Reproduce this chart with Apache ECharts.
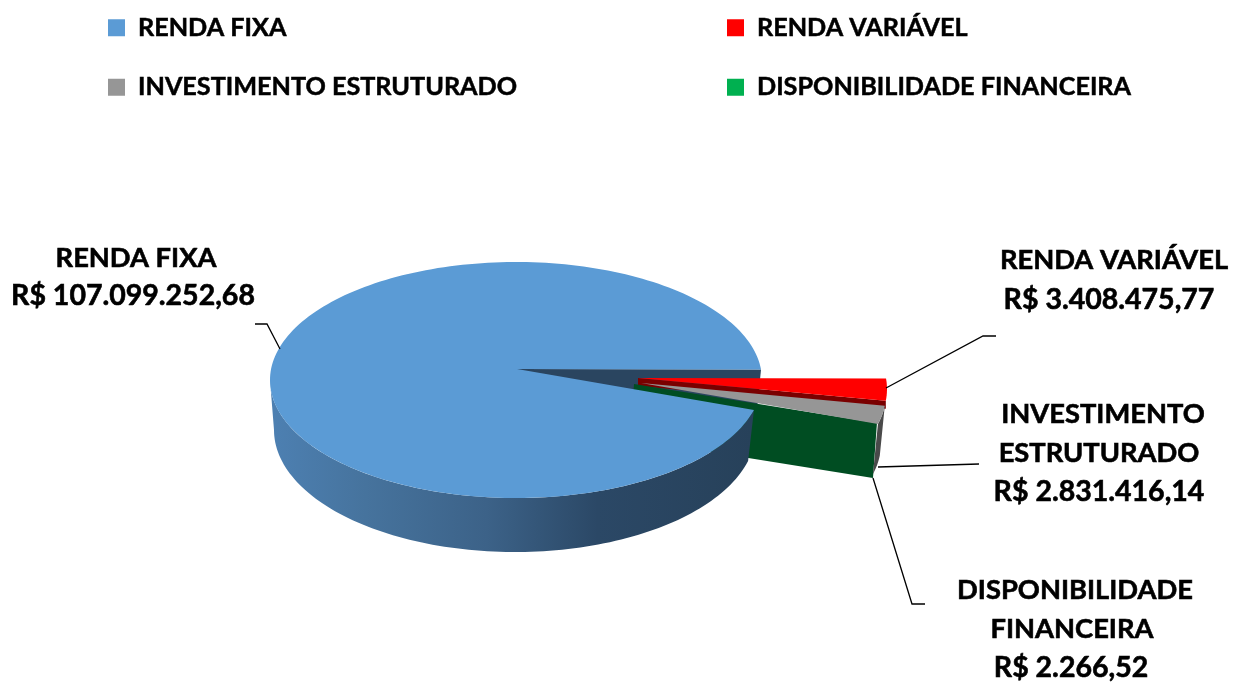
<!DOCTYPE html>
<html><head><meta charset="utf-8">
<style>html,body{margin:0;padding:0;background:#fff}#c{width:1241px;height:682px}</style>
<script src="https://cdn.jsdelivr.net/npm/echarts@6/dist/echarts.min.js"></script>
</head><body><div id="c"></div>
<script>
// ---- data ----
const categories = ['RENDA FIXA', 'RENDA VARIÁVEL', 'INVESTIMENTO ESTRUTURADO', 'DISPONIBILIDADE FINANCEIRA'];
const values = [107099252.68, 3408475.77, 2831416.14, 2266.52];
const colors = ['#5b9bd5', '#ff0000', '#969696', '#00b050'];

// ---- layout of the tilted disc (not data) ----
const TOP = {cx: 516, cy: 380, rx: 246, ry: 118};
const BOTTOM = {cx: 515, cy: 430, rx: 241, ry: 122};
const APEX = [517, 369];
const DEPTH = [-5, 50];
const GREEN_DEPTH = [-4, 55];
const RED_FACE_DEPTH = [0, 8];
const START_DEG = 14.7;           // where the first slice begins, clockwise from 3 o'clock
const EXPLODE = [[0, 0], [125, 9], [124, 14], [123, 13]];
const RED_TIP = [-4, 0];
const GREEN_TIP = [-6, 2];
const FONT = 'Lato, "Noto Sans", sans-serif';
const FS_NAME = 27.3;
const FS_VALUE = 28.5;

const labelLines = [
  [{t: 'RENDA FIXA', x: 136, y: 258}, {v: 0, x: 133, y: 296}],
  [{t: 'RENDA VARIÁVEL', x: 1114, y: 260}, {v: 1, x: 1109, y: 300}],
  [{t: 'INVESTIMENTO', x: 1103, y: 414}, {t: 'ESTRUTURADO', x: 1099, y: 453}, {v: 2, x: 1099, y: 492}],
  [{t: 'DISPONIBILIDADE', x: 1075, y: 590}, {t: 'FINANCEIRA', x: 1072, y: 629}, {v: 3, x: 1071, y: 668}]
];
const leaders = [
  [[255, 324], [267, 324], [280, 349]],
  [[996, 336], [983, 336], [886, 388]],
  [[979, 464], [878, 467]],
  [[873, 478], [912, 604], [925, 604]]
];

function brl(v) {
  const [i, d] = v.toFixed(2).split('.');
  return 'R$ ' + i.replace(/\B(?=(\d{3})+$)/g, '.') + ',' + d;
}
const total = values.reduce((a, b) => a + b, 0);
const ranges = [];
values.reduce((acc, v) => {
  const next = acc + v / total * 360;
  ranges.push([acc, next]);
  return next;
}, START_DEG);

function ell(e, deg, off) {
  const r = deg * Math.PI / 180;
  return [e.cx + e.rx * Math.cos(r) + (off ? off[0] : 0), e.cy + e.ry * Math.sin(r) + (off ? off[1] : 0)];
}
function arc(e, a, b, off) {
  const n = Math.max(2, Math.ceil(Math.abs(b - a) / 1.5));
  const out = [];
  for (let i = 0; i <= n; i++) out.push(ell(e, a + (b - a) * i / n, off));
  return out;
}
function add(p, o) { return [p[0] + o[0], p[1] + o[1]]; }
function poly(points, fill, z2) {
  return {type: 'polygon', z2, shape: {points}, style: {fill}, silent: true};
}
const wallFill = new echarts.graphic.LinearGradient(270, 0, 752, 0, [
  {offset: 0, color: '#4d80b2'}, {offset: 0.2, color: '#46739d'}, {offset: 0.45, color: '#3c6288'},
  {offset: 0.68, color: '#2b4866'}, {offset: 1, color: '#27415a'}
], true);

function decorations(i) {
  const out = [];
  out.push({type: 'polyline', z2: 30, silent: true, shape: {points: leaders[i]}, style: {stroke: '#000', lineWidth: 1.3, fill: null}});
  labelLines[i].forEach(l => {
    const isName = l.t !== undefined;
    out.push({type: 'text', z2: 31, silent: true, style: {
      text: isName ? l.t : brl(values[l.v]), x: l.x, y: l.y, align: 'center', verticalAlign: 'middle',
      font: 'bold ' + (isName ? FS_NAME : FS_VALUE) + 'px ' + FONT, fill: '#000', stroke: '#000', lineWidth: 0.6}});
  });
  return out;
}

const painters = [
  function blue(r) {
    const top = arc(TOP, r[0], r[1]);
    const wallTop = arc(TOP, r[0], 180);
    const wallBot = arc(BOTTOM, 180, r[0]);
    const p = ell(TOP, r[1]);
    return [
      poly([APEX, p, add(p, DEPTH), add(APEX, DEPTH)], '#2a4560', 1),
      poly(wallTop.concat(wallBot), wallFill, 10),
      poly([APEX].concat(top), colors[0], 11)
    ];
  },
  function red(r) {
    const o = EXPLODE[1], ap = add(add(APEX, o), RED_TIP);
    const p = ell(TOP, r[1], o);
    return [
      poly([ap, p, add(p, RED_FACE_DEPTH), add(ap, RED_FACE_DEPTH)], '#7a0000', 2),
      poly([ap].concat(arc(TOP, r[0], r[1], o)), colors[1], 9)
    ];
  },
  function gray(r) {
    const o = EXPLODE[2], ap = add(APEX, o);
    const outer = arc(TOP, r[0], r[1], o);
    const lower = outer.map(p => add(p, DEPTH)).reverse();
    return [
      poly(outer.concat(lower), '#4a4a4a', 5),
      poly([ap].concat(outer), colors[2], 6)
    ];
  },
  function green(r) {
    const o = EXPLODE[3], ap = add(add(APEX, o), GREEN_TIP);
    const p = ell(TOP, r[0], o);
    return [poly([ap, p, add(p, GREEN_DEPTH), add(ap, GREEN_DEPTH)], '#004d22', 4)];
  }
];

function seriesFor(i) {
  return {
    type: 'custom',
    name: categories[i],
    coordinateSystem: 'none',
    itemStyle: {color: colors[i]},
    silent: true,
    data: [values[i]],
    renderItem: function () {
      return {type: 'group', children: painters[i](ranges[i]).concat(decorations(i))};
    }
  };
}
const legendBase = {
  orient: 'vertical', icon: 'rect', itemWidth: 17, itemHeight: 17, itemGap: 34, padding: 0, selectedMode: false,
  textStyle: {fontFamily: FONT, fontWeight: 'bold', fontSize: 25.2, color: '#000', padding: [0, 0, 0, 8], lineHeight: 24,
    textBorderColor: '#000', textBorderWidth: 0.5}
};
const chart = echarts.init(document.getElementById('c'));
chart.setOption({
  backgroundColor: '#fff',
  animation: false,
  legend: [
    Object.assign({}, legendBase, {left: 108, top: 15, data: [categories[0], categories[2]]}),
    Object.assign({}, legendBase, {left: 727, top: 15, data: [categories[1], categories[3]]})
  ],
  series: categories.map((c, i) => seriesFor(i))
});
</script></body></html>
